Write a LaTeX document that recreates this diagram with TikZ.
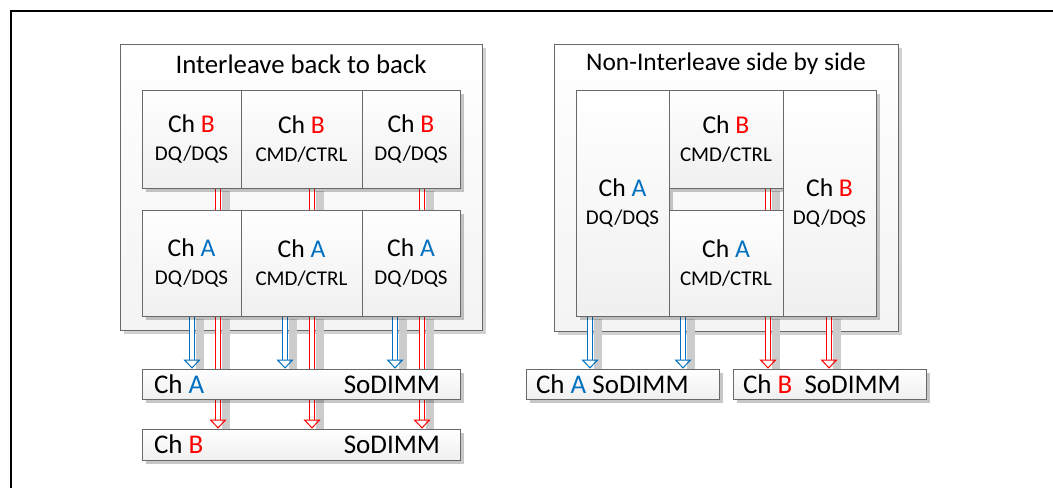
\documentclass[tikz,border=0pt]{standalone}
\usepackage{fontspec}
\setmainfont{Carlito}
\usetikzlibrary{positioning, shadows, arrows.meta, calc}
\definecolor{chA}{RGB}{0,112,192}
\definecolor{chB}{RGB}{255,0,0}
\definecolor{boxline}{RGB}{105,105,105}
\newcommand{\sigfont}{\fontsize{10.5}{13}\selectfont}
\pgfdeclarelayer{back}
\pgfdeclarelayer{mid}
\pgfsetlayers{back,mid,main}

\begin{document}
\begin{tikzpicture}[x=0.5pt, y=-0.5pt,
    grp/.style={draw=boxline, top color=white, bottom color=gray!9, inner sep=0pt,
      drop shadow={shadow xshift=2pt, shadow yshift=-2pt, fill=black, opacity=0.18}},
    blk/.style={draw=boxline, top color=white, bottom color=gray!12, inner sep=0pt, align=center,
      font=\fontsize{12.8}{14}\selectfont,
      drop shadow={shadow xshift=2pt, shadow yshift=-2pt, fill=black, opacity=0.22}},
    dimm/.style={blk, font=\fontsize{13.5}{15}\selectfont},
    ttl/.style={font=\fontsize{13.4}{15}\selectfont},
    wire/.style={line width=0.5pt, double=white, double distance=2.4pt,
      preaction={draw=gray!40, line width=4pt, -, double=none,
        transform canvas={xshift=4pt, yshift=-1.5pt}}},
    bluearr/.style={wire, draw=chA, -{Triangle[open, length=4.5pt, width=8.5pt]}},
    redarr/.style={wire, draw=chB, -{Triangle[open, length=4.5pt, width=8.5pt]}},
    redlink/.style={wire, draw=chB}
  ]
  \useasboundingbox (0,0) rectangle (1053,487);
  \clip (0,0) rectangle (1053,487);
  \draw[line width=1pt] (11,11) rectangle (1100,540);

  % group frames
  \begin{pgfonlayer}{back}
    \node[grp, minimum width=181pt, minimum height=143pt] (grpL) at (301,187) {};
    \node[grp, minimum width=172pt, minimum height=143.5pt] (grpR) at (726,187.5) {};
  \end{pgfonlayer}
  \node[ttl] (ttlL) at (301,64) {Interleave back to back};
  \node[ttl, font=\fontsize{12.7}{15}\selectfont] (ttlR) at (726,64) {Non-Interleave side by side};

  % interleave back to back
  \node[blk, minimum width=49.5pt, minimum height=49pt] (B1) at (191.5,139) {Ch \textcolor{chB}{B}\\ {\sigfont DQ/DQS}};
  \node[blk, minimum width=60.5pt, minimum height=49pt] (B2) at (301.5,139) {Ch \textcolor{chB}{B}\\ {\sigfont CMD/CTRL}};
  \node[blk, minimum width=49pt, minimum height=49pt] (B3) at (411,139) {Ch \textcolor{chB}{B}\\ {\sigfont DQ/DQS}};
  \node[blk, minimum width=49.5pt, minimum height=53pt] (A1) at (191.5,263) {Ch \textcolor{chA}{A}\\ {\sigfont DQ/DQS}};
  \node[blk, minimum width=60.5pt, minimum height=53pt] (A2) at (301.5,263) {Ch \textcolor{chA}{A}\\ {\sigfont CMD/CTRL}};
  \node[blk, minimum width=49pt, minimum height=53pt] (A3) at (411,263) {Ch \textcolor{chA}{A}\\ {\sigfont DQ/DQS}};
  \node[dimm, minimum width=159pt, minimum height=15pt] (soA) at (301,384) {\makebox[147pt]{Ch \textcolor{chA}{A}\hfill SoDIMM\hspace{4pt}}};
  \node[dimm, minimum width=159pt, minimum height=15.5pt] (soB) at (301,444.5) {\makebox[147pt]{Ch \textcolor{chB}{B}\hfill SoDIMM\hspace{4pt}}};

  % non-interleave side by side
  \node[blk, minimum width=46.5pt, minimum height=113pt] (RA1) at (622.5,203) {Ch \textcolor{chA}{A}\\ {\sigfont DQ/DQS}};
  \node[blk, minimum width=57pt, minimum height=49pt] (RB2) at (726,139) {Ch \textcolor{chB}{B}\\ {\sigfont CMD/CTRL}};
  \node[blk, minimum width=57pt, minimum height=53pt] (RA2) at (726,263) {Ch \textcolor{chA}{A}\\ {\sigfont CMD/CTRL}};
  \node[blk, minimum width=46.5pt, minimum height=113pt] (RB1) at (829.5,203) {Ch \textcolor{chB}{B}\\ {\sigfont DQ/DQS}};
  \node[dimm, minimum width=96.5pt, minimum height=15pt] (soAR) at (622.5,384) {\makebox[86.5pt][l]{Ch \textcolor{chA}{A} SoDIMM}};
  \node[dimm, minimum width=96.5pt, minimum height=15pt] (soBR) at (829.5,384) {\makebox[86.5pt][l]{Ch \textcolor{chB}{B}~ SoDIMM}};

  % signals
  \begin{pgfonlayer}{mid}
    \foreach \n/\bx/\rx in {1/192/218, 2/285/312, 3/395/422}{
      \coordinate (b) at (\bx,0);
      \coordinate (r) at (\rx,0);
      \draw[redlink] (B\n.south -| r) -- (A\n.north -| r);
      \draw[bluearr] (A\n.south -| b) -- (soA.north -| b);
      \draw[redarr] (A\n.south -| r) -- (soB.north -| r);
    }
    \coordinate (r) at (768,0);
    \draw[redlink] (RB2.south -| r) -- (RA2.north -| r);
    \draw[redarr] (RA2.south -| r) -- (soBR.north -| r);
    \coordinate (r) at (829,0);
    \draw[redarr] (RB1.south -| r) -- (soBR.north -| r);
    \coordinate (b) at (590,0);
    \draw[bluearr] (RA1.south -| b) -- (soAR.north -| b);
    \coordinate (b) at (683,0);
    \draw[bluearr] (RA2.south -| b) -- (soAR.north -| b);
  \end{pgfonlayer}
\end{tikzpicture}
\end{document}
